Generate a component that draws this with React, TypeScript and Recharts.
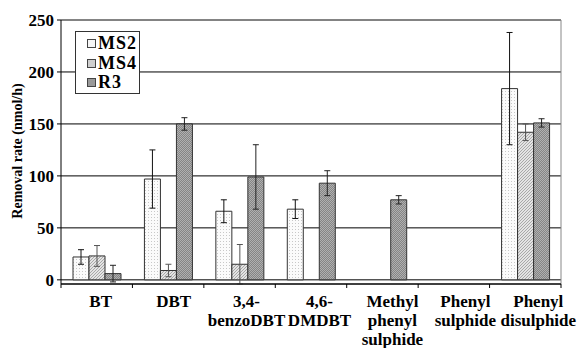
import { BarChart, Bar, XAxis, YAxis, CartesianGrid, ErrorBar, ReferenceLine } from 'recharts';

const categories = ['BT', 'DBT', '3,4-\nbenzoDBT', '4,6-\nDMDBT', 'Methyl\nphenyl\nsulphide', 'Phenyl\nsulphide', 'Phenyl\ndisulphide'];
const ms2 = [22, 97, 66, 68, 0, 0, 184];
const ms2Err = [7, 28, 11, 9, 0, 0, 54];
const ms4 = [23, 9, 15, 0, 0, 0, 142];
const ms4Err = [10, 6, 19, 0, 0, 0, 8];
const r3 = [6, 150, 99, 93, 77, 0, 151];
const r3Err = [8, 6, 31, 12, 4, 0, 4];
const yTicks = [0, 50, 100, 150, 200, 250];

const series = [
  { key: 'ms2', name: 'MS2', fill: 'url(#patMS2)', swatch: '#f6f6f6', errColor: '#111' },
  { key: 'ms4', name: 'MS4', fill: 'url(#patMS4)', swatch: '#cfcfcf', errColor: '#555' },
  { key: 'r3', name: 'R3', fill: 'url(#patR3)', swatch: '#999', errColor: '#222' },
];

const data = categories.map((c, i) => ({
  name: c,
  ms2: ms2[i], ms2Err: ms2Err[i],
  ms4: ms4[i], ms4Err: ms4Err[i],
  r3: r3[i], r3Err: r3Err[i],
}));

const W = 582;
const H = 348;
const LEFT = 61;
const RIGHT = 21;
const BAND_HALF = (W - LEFT - RIGHT) / categories.length / 2;
const FONT = '"Liberation Serif"';

function CategoryTick(props: any) {
  const { x, y, payload, index } = props;
  const lines = String(payload.value).split('\n');
  // labels in the original sit a little right of the band centre
  const shift = 4 + index * 1.5;
  return (
    <g>
      {index === 0 && <line x1={x - BAND_HALF} y1={y} x2={x - BAND_HALF} y2={y + 4} stroke="#000" />}
      <line x1={x + BAND_HALF} y1={y} x2={x + BAND_HALF} y2={y + 4} stroke="#000" />
      {lines.map((l, i) => (
        <text key={i} x={x + shift} y={y + 23 + i * 19} textAnchor="middle" style={{ fontFamily: FONT, fontWeight: 'bold', fontSize: 17 }} fill="#000">
          {l}
        </text>
      ))}
    </g>
  );
}

function LegendBox() {
  return (
    <div style={{
      position: 'absolute',
      left: 75,
      top: 31,
      border: '1px solid #333',
      background: '#fff',
      width: 65,
      height: 63,
      padding: '2px 0 0 11px',
      boxSizing: 'border-box',
      fontFamily: FONT,
      fontWeight: 'bold',
      fontSize: 18,
      lineHeight: '19.5px',
    }}>
      {series.map((s) => (
        <div key={s.key} style={{ display: 'flex', alignItems: 'center' }}>
          <span style={{ display: 'inline-block', width: 7, height: 7, background: s.swatch, border: '1px solid #444', marginRight: 2 }} />
          <span style={{ letterSpacing: 1 }}>{s.name}</span>
        </div>
      ))}
    </div>
  );
}

export default function App() {
  return (
    <div style={{ position: 'absolute', left: 0, top: 0, width: W, height: H, background: '#fff' }}>
      <BarChart
        width={W}
        height={H}
        data={data}
        margin={{ top: 20, right: RIGHT, left: 11, bottom: 4 }}
        barGap={0}
        barSize={16}
      >
        <defs>
          <pattern id="patMS2" width="3" height="3" patternUnits="userSpaceOnUse">
            <rect width="3" height="3" fill="#fbfbfb" />
            <rect x="1" y="1" width="1" height="1" fill="#c8c8c8" />
          </pattern>
          <pattern id="patMS4" width="3" height="3" patternUnits="userSpaceOnUse">
            <rect width="3" height="3" fill="#e4e4e4" />
            <path d="M0,3 L3,0" stroke="#a8a8a8" strokeWidth="1" />
          </pattern>
          <pattern id="patR3" width="2" height="2" patternUnits="userSpaceOnUse">
            <rect width="2" height="2" fill="#858585" />
            <rect x="0" y="0" width="1" height="1" fill="#b0b0b0" />
            <rect x="1" y="1" width="1" height="1" fill="#b0b0b0" />
          </pattern>
        </defs>
        <CartesianGrid vertical={false} stroke="#000" />
        <CartesianGrid horizontal={false} verticalPoints={[W - RIGHT]} stroke="#888" />
        <ReferenceLine y={250} stroke="#888" />
        <XAxis
          dataKey="name"
          interval={0}
          height={60}
          tickLine={false}
          tickSize={0}
          tickMargin={0}
          axisLine={{ stroke: '#000' }}
          tick={<CategoryTick />}
        />
        <YAxis
          domain={[0, 250]}
          ticks={yTicks}
          width={50}
          tickSize={4}
          tickMargin={3}
          axisLine={{ stroke: '#000' }}
          tickLine={{ stroke: '#000' }}
          tick={{ style: { fontFamily: FONT, fontWeight: 'bold', fontSize: 17 }, fill: '#000' }}
        />
        {series.map((s) => (
          <Bar key={s.key} dataKey={s.key} name={s.name} fill={s.fill} stroke="#333" strokeWidth={1} isAnimationActive={false}>
            <ErrorBar dataKey={`${s.key}Err`} width={3} stroke={s.errColor} strokeWidth={1} />
          </Bar>
        ))}
      </BarChart>
      <LegendBox />
      <div style={{
        position: 'absolute',
        left: 18,
        top: 151,
        transform: 'translate(-50%, -50%) rotate(-90deg)',
        whiteSpace: 'nowrap',
        fontFamily: FONT,
        fontWeight: 'bold',
        fontSize: 14,
      }}>
        Removal rate (nmol/h)
      </div>
    </div>
  );
}
